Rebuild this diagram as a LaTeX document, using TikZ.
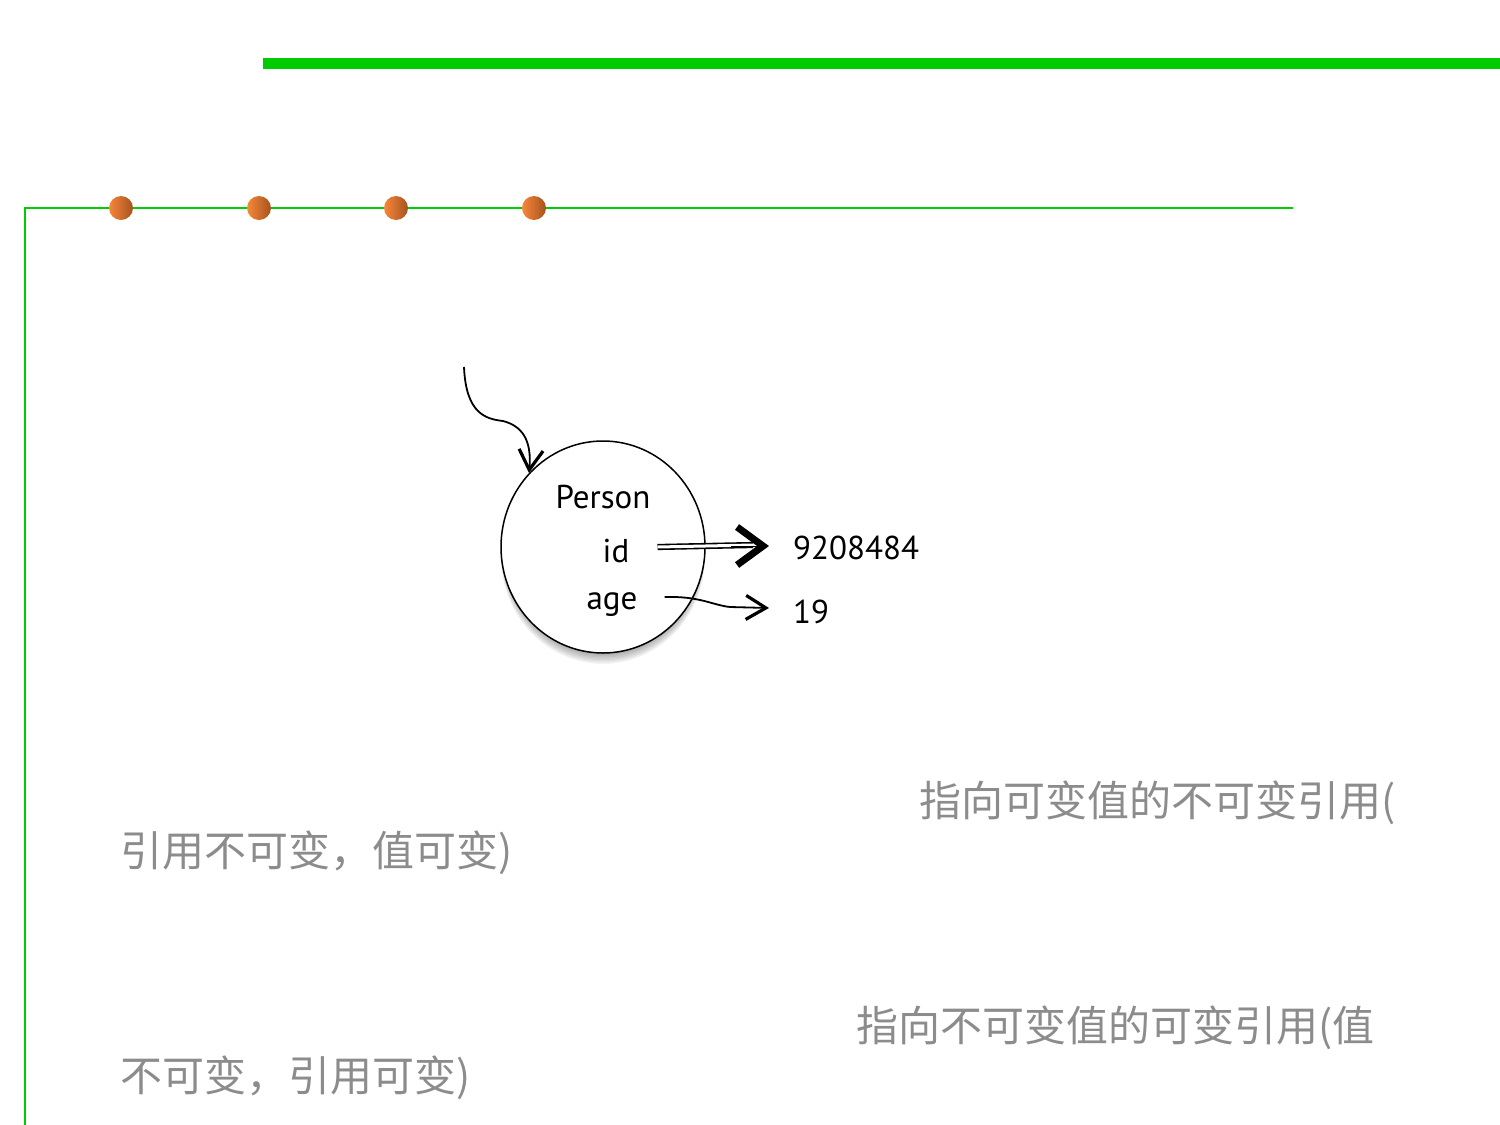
\documentclass[tikz,border=0pt]{standalone}
\usepackage{fontspec}
\setmainfont{PT Sans}
\newfontfamily\cjk{Noto Sans CJK SC}
\usetikzlibrary{shapes.geometric,arrows.meta,calc}
\definecolor{lime}{HTML}{00CC00}
\definecolor{dotA}{HTML}{F8873A}
\definecolor{dotB}{HTML}{A4531F}
\definecolor{txtgray}{HTML}{8C8C8C}
\tikzset{
  dot/.style={circle, minimum size=24, inner sep=0, shading=axis, left color=dotA, right color=dotB},
  lbl/.style={font=\fontsize{33}{37}\selectfont, inner sep=0},
  cjktext/.style={font=\cjk\fontsize{42}{48}\selectfont, text=txtgray, inner sep=0, anchor=west},
  thinarrow/.style={line width=1.8pt, -{Straight Barb[length=20pt, width=24pt, line width=3.2pt]}},
  bigtip/.style={line width=1pt, -{Straight Barb[length=26pt, width=38pt, line width=7pt]}},
}
\begin{document}
\begin{tikzpicture}[x=1pt,y=-1pt]
\useasboundingbox (0,0) rectangle (1500,1125);
% top bar
\fill[lime] (263,58) rectangle (1500,69);
% thin frame lines
\draw[lime, line width=2pt] (1293,208) -- (25,208) -- (25,1125);
% dots
\foreach \x/\n in {121/d1,259/d2,396/d3,534/d4}
  \node[dot] (\n) at (\x,208) {};
% soft shadow of the object circle
\foreach \k in {1,...,10}
  \fill[black, opacity=.045] (603,{547+\k}) ellipse [x radius={99+0.3*\k}, y radius={104+0.3*\k}];
% object circle
\node[draw, ellipse, line width=1.5pt, fill=white, minimum width=204, minimum height=212] (obj) at (603,547) {};
\node[lbl] (person) at (603,497) {Person};
\node[lbl] (id) at (616,551) {id};
\node[lbl] (age) at (612,605) {age};
\node[lbl, anchor=west] (num) at (793,548) {9208484};
\node[lbl, anchor=west] (nineteen) at (793,612) {19};
% incoming reference
\coordinate (src) at (464,367);
\draw[thinarrow] (src) .. controls (466,414) and (486,419) .. (503,421)
   .. controls (522,426) and (532,440) .. (obj.135);
% id -> value (double line)
\coordinate (idend) at ($(num.west)+(-24,-2)$);
\draw[line width=1.6pt, double=white, double distance=3pt]
   ($(id.east)+(28,-4)$) -- ($(num.west)+(-40,-3)$);
\draw[bigtip] ($(num.west)+(-62,-2)$) -- (idend);
% age -> 19
\draw[thinarrow] ($(age.east)+(27,-8)$) .. controls (700,596) and (712,605) .. (730,607)
   -- ($(nineteen.west)+(-24,-4)$);
% texts
\node[cjktext] (t1) at (919,803) {指向可变值的不可变引用(};
\node[cjktext] (t2) at (120,853) {引用不可变，值可变)};
\node[cjktext] (t3) at (856,1028) {指向不可变值的可变引用(值};
\node[cjktext] (t4) at (120,1078) {不可变，引用可变)};
\end{tikzpicture}
\end{document}
